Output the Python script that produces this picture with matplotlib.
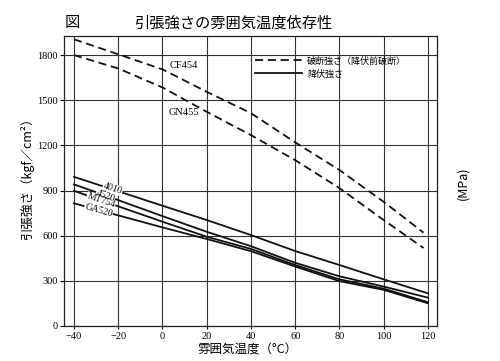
import matplotlib
matplotlib.use("Agg")
import matplotlib.pyplot as plt
from matplotlib.lines import Line2D

# ---- data ----
temp_break = [-40, -20, 0, 20, 40, 60, 80, 100, 118]
cf454 = [1905, 1805, 1705, 1556, 1414, 1220, 1036, 825, 620]
gn455 = [1800, 1711, 1585, 1423, 1268, 1102, 916, 704, 518]

temp_yield = [-40, -20, 0, 20, 40, 60, 80, 100, 120]
s4010 = [991, 895, 799, 704, 604, 498, 405, 310, 217]
s4520 = [941, 836, 730, 626, 530, 420, 330, 262, 188]
mt754 = [898, 795, 693, 593, 512, 405, 310, 248, 158]
ga520 = [815, 735, 655, 578, 497, 395, 298, 240, 151]

yield_names = ["4010", "4520", "MT754", "GA520"]
label_x = [-22.5, -25.8, -27.8, -28.9]
label_y = [912, 865, 832, 769]
label_rot = [-18, -20, -19, -16]

x_ticks = [-40, -20, 0, 20, 40, 60, 80, 100, 120]
y_ticks = [0, 300, 600, 900, 1200, 1500, 1800]

CJK = ['Noto Sans CJK JP', 'DejaVu Sans']
SERIF = ['Liberation Serif', 'DejaVu Serif']

fig = plt.figure(figsize=(5.0, 3.61), dpi=100)
ax = fig.add_axes([0.128, 0.097, 0.746, 0.803])

ax.set_xlim(-44.5, 124.1)
ax.set_ylim(0, 1926)

ax.set_xticks(x_ticks)
ax.set_yticks(y_ticks)
ax.set_xticklabels([("\u2212%d" % -v) if v < 0 else str(v) for v in x_ticks],
                   family=SERIF, fontsize=7.5)
ax.set_yticklabels([str(v) for v in y_ticks], family=SERIF, fontsize=7.5)
ax.tick_params(axis='y', length=3, width=0.8, pad=1.5, direction='out')
ax.tick_params(axis='x', length=2, width=0.8, pad=2.5, direction='out')
ax.grid(True, color='#333333', linewidth=0.8)
ax.set_axisbelow(True)
for s in ax.spines.values():
    s.set_linewidth(0.9)
    s.set_color('#222222')

dash = (0, (4.5, 2.6))
ax.plot(temp_break, cf454, color='#111111', lw=1.3, linestyle=dash, zorder=3)
ax.plot(temp_break, gn455, color='#111111', lw=1.3, linestyle=dash, zorder=3)

for ys in (s4010, s4520, mt754, ga520):
    ax.plot(temp_yield, ys, color='#111111', lw=1.3, zorder=3)

# curve labels
ax.text(9.5, 1733, "CF454", family=SERIF, fontsize=7.5, ha='center', va='center', zorder=4)
ax.text(9.5, 1421, "GN455", family=SERIF, fontsize=7.5, ha='center', va='center', zorder=4)

# white gaps behind labels, then the glyphs on top
for name, lx, ly, rot in zip(yield_names, label_x, label_y, label_rot):
    ax.text(lx, ly, name, family=SERIF, fontsize=7.0, ha='center', va='center',
            rotation=rot, color='white',
            bbox=dict(facecolor='white', edgecolor='none', pad=0.3), zorder=4)
for name, lx, ly, rot in zip(yield_names, label_x, label_y, label_rot):
    ax.text(lx, ly, name, family=SERIF, fontsize=7.0, ha='center', va='center',
            rotation=rot, color='#111111', zorder=6)

# legend
handles = [Line2D([], [], color='#111111', lw=1.3, linestyle=dash),
           Line2D([], [], color='#111111', lw=1.3)]
labels = ["破断強さ（降伏前破断）", "降伏強さ"]
leg = ax.legend(handles, labels, loc='upper left', bbox_to_anchor=(0.513, 0.93),
                frameon=False, prop={'family': CJK, 'size': 6.5},
                handlelength=5.2, handletextpad=0.5, labelspacing=0.45,
                borderpad=0, borderaxespad=0)

# titles & labels
fig.text(72 / 500, 1 - 23 / 361, "図", family=CJK, fontsize=11, ha='center', va='center')
fig.text(234 / 500, 1 - 23 / 361, "引張強さの雰囲気温度依存性", family=CJK, fontsize=11,
         ha='center', va='center')
fig.text(27 / 500, 1 - 176 / 361, "引張強さ（kgf／cm²）", family=CJK, fontsize=9,
         rotation=90, ha='center', va='center')
fig.text(463 / 500, 1 - 183 / 361, "(MPa)", family=CJK, fontsize=9,
         rotation=90, ha='center', va='center')
fig.text(248 / 500, 1 - 350 / 361, "雰囲気温度（°C）", family=CJK, fontsize=9,
         ha='center', va='center')

fig.savefig("out.png", dpi=100)
